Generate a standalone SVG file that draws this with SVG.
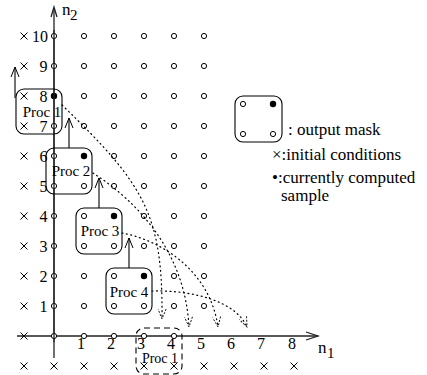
<svg xmlns="http://www.w3.org/2000/svg" width="427" height="375" viewBox="0 0 427 375" font-family="'Liberation Serif', 'Times New Roman', serif">
<style>
text{font-family:"Liberation Serif","Times New Roman",serif;fill:#000}
.num{font-size:16px}
.lbl{font-size:15px;text-anchor:middle}
.leg{font-size:17px}
.box{fill:none;stroke:#000;stroke-width:1.1}
.dbox{fill:none;stroke:#000;stroke-width:1.1;stroke-dasharray:6 4}
.ax{fill:none;stroke:#222;stroke-width:1.3}
.up{fill:none;stroke:#000;stroke-width:1.1}
.dot{fill:none;stroke:#000;stroke-width:1.2;stroke-dasharray:1 3.5;stroke-linecap:round}
</style>
<defs>
<circle id="c" r="2.6" fill="#fff" stroke="#000" stroke-width="1"/>
<circle id="f" r="3.2" fill="#000"/>
<path id="x" d="M-3.5,-3.5L3.5,3.5M-3.5,3.5L3.5,-3.5" stroke="#000" stroke-width="1" fill="none"/>
<marker id="ah" markerUnits="userSpaceOnUse" markerWidth="14" markerHeight="10" refX="10" refY="4" orient="auto" overflow="visible">
<path d="M0,0L10,4L0,8" fill="none" stroke="#000" stroke-width="1"/>
</marker>
<marker id="ahd" markerUnits="userSpaceOnUse" markerWidth="14" markerHeight="10" refX="10" refY="4" orient="auto" overflow="visible">
<path d="M0,0L10,4L0,8" fill="none" stroke="#000" stroke-width="0.9" stroke-dasharray="2 1.5"/>
</marker>
</defs>
<rect width="427" height="375" fill="#fff"/>

<g id="axes">
<line class="ax" x1="54" y1="358" x2="54" y2="8"/>
<path class="ax" d="M51,17L54,7L57,17"/>
<line class="ax" x1="17" y1="336" x2="318" y2="336"/>
<path class="ax" d="M306,332L318,336L306,340"/>
<text x="62" y="15" style="font-size:17px">n</text><text x="70" y="20" style="font-size:15px">2</text>
<text x="318" y="353" style="font-size:17px">n</text><text x="327" y="358" style="font-size:15px">1</text>
</g>

<g id="grid-labels" class="num">
<text x="48" y="42" text-anchor="end">10</text>
<text x="47.5" y="72" text-anchor="end">9</text>
<text x="47.5" y="102" text-anchor="end">8</text>
<text x="47.5" y="132" text-anchor="end">7</text>
<text x="47.5" y="162" text-anchor="end">6</text>
<text x="47.5" y="192" text-anchor="end">5</text>
<text x="47.5" y="222" text-anchor="end">4</text>
<text x="47.5" y="252" text-anchor="end">3</text>
<text x="47.5" y="282" text-anchor="end">2</text>
<text x="47.5" y="312" text-anchor="end">1</text>
<text x="81" y="349" text-anchor="middle">1</text>
<text x="111" y="349" text-anchor="middle">2</text>
<text x="141" y="349" text-anchor="middle">3</text>
<text x="171" y="349" text-anchor="middle">4</text>
<text x="201" y="349" text-anchor="middle">5</text>
<text x="231" y="349" text-anchor="middle">6</text>
<text x="261" y="349" text-anchor="middle">7</text>
<text x="292" y="349" text-anchor="middle">8</text>
</g>

<g id="initial-conditions">
<use href="#x" x="24" y="36"/><use href="#x" x="24" y="66"/><use href="#x" x="24" y="96"/><use href="#x" x="24" y="126"/>
<use href="#x" x="24" y="156"/><use href="#x" x="24" y="186"/><use href="#x" x="24" y="216"/><use href="#x" x="24" y="246"/>
<use href="#x" x="24" y="276"/><use href="#x" x="24" y="306"/><use href="#x" x="24" y="336"/>
<use href="#x" x="24" y="366"/><use href="#x" x="54" y="366"/><use href="#x" x="84" y="366"/><use href="#x" x="114" y="366"/>
<use href="#x" x="144" y="366"/><use href="#x" x="174" y="366"/><use href="#x" x="204" y="366"/><use href="#x" x="234" y="366"/>
<use href="#x" x="264" y="366"/><use href="#x" x="294" y="366"/>
</g>

<g id="samples">
<use href="#c" x="54" y="36"/><use href="#c" x="84" y="36"/><use href="#c" x="114" y="36"/><use href="#c" x="144" y="36"/><use href="#c" x="174" y="36"/><use href="#c" x="204" y="36"/>
<use href="#c" x="54" y="66"/><use href="#c" x="84" y="66"/><use href="#c" x="114" y="66"/><use href="#c" x="144" y="66"/><use href="#c" x="174" y="66"/><use href="#c" x="204" y="66"/>
<use href="#f" x="54" y="96"/><use href="#c" x="84" y="96"/><use href="#c" x="114" y="96"/><use href="#c" x="144" y="96"/><use href="#c" x="174" y="96"/><use href="#c" x="204" y="96"/>
<use href="#c" x="54" y="126"/><use href="#c" x="84" y="126"/><use href="#c" x="114" y="126"/><use href="#c" x="144" y="126"/><use href="#c" x="174" y="126"/><use href="#c" x="204" y="126"/>
<use href="#c" x="54" y="156"/><use href="#f" x="84" y="156"/><use href="#c" x="114" y="156"/><use href="#c" x="144" y="156"/><use href="#c" x="174" y="156"/><use href="#c" x="204" y="156"/>
<use href="#c" x="54" y="186"/><use href="#c" x="84" y="186"/><use href="#c" x="114" y="186"/><use href="#c" x="144" y="186"/><use href="#c" x="174" y="186"/><use href="#c" x="204" y="186"/>
<use href="#c" x="54" y="216"/><use href="#c" x="84" y="216"/><use href="#f" x="114" y="216"/><use href="#c" x="144" y="216"/><use href="#c" x="174" y="216"/><use href="#c" x="204" y="216"/>
<use href="#c" x="54" y="246"/><use href="#c" x="84" y="246"/><use href="#c" x="114" y="246"/><use href="#c" x="144" y="246"/><use href="#c" x="174" y="246"/><use href="#c" x="204" y="246"/>
<use href="#c" x="54" y="276"/><use href="#c" x="84" y="276"/><use href="#c" x="114" y="276"/><use href="#f" x="144" y="276"/><use href="#c" x="174" y="276"/><use href="#c" x="204" y="276"/>
<use href="#c" x="54" y="306"/><use href="#c" x="84" y="306"/><use href="#c" x="114" y="306"/><use href="#c" x="144" y="306"/><use href="#c" x="174" y="306"/><use href="#c" x="204" y="306"/>
<use href="#c" x="54" y="336"/><use href="#c" x="84" y="336"/><use href="#c" x="114" y="336"/><use href="#c" x="144" y="336"/><use href="#c" x="174" y="336"/>
</g>
<line x1="54" y1="30" x2="54" y2="342" stroke="#222" stroke-width="1.3"/>

<g id="proc1">
<rect class="box" x="16" y="89" width="46" height="45" rx="8"/>
<text class="lbl" x="42" y="117">Proc 1</text>
</g>
<g id="proc2">
<rect class="box" x="46" y="148" width="46" height="46" rx="8"/>
<text class="lbl" x="71" y="176">Proc 2</text>
</g>
<g id="proc3">
<rect class="box" x="76" y="208" width="46" height="46" rx="8"/>
<text class="lbl" x="100" y="236">Proc 3</text>
</g>
<g id="proc4">
<rect class="box" x="106" y="268" width="46" height="46" rx="8"/>
<text class="lbl" x="129" y="297">Proc 4</text>
</g>
<g id="proc1-next">
<rect class="dbox" x="136" y="328" width="46" height="46" rx="8"/>
<text class="lbl" x="160" y="363" style="font-size:14px">Proc 1</text>
</g>

<g id="connectors">
<line class="up" x1="15" y1="98" x2="15" y2="67" marker-end="url(#ah)"/>
<line class="up" x1="69" y1="148" x2="69" y2="118" marker-end="url(#ah)"/>
<line class="up" x1="99" y1="208" x2="99" y2="178" marker-end="url(#ah)"/>
<line class="up" x1="129" y1="268" x2="129" y2="238" marker-end="url(#ah)"/>
<path class="dot" d="M62,105C145,185 163,215 162,319" marker-end="url(#ahd)"/>
<path class="dot" d="M93,173C135,200 185,250 189,327" marker-end="url(#ahd)"/>
<path class="dot" d="M122,233C160,240 210,270 218,327" marker-end="url(#ahd)"/>
<path class="dot" d="M152,291C190,290 235,300 247,327" marker-end="url(#ahd)"/>
</g>

<g id="legend">
<rect class="box" x="235" y="96" width="47" height="46" rx="8"/>
<use href="#c" x="243" y="104"/><use href="#f" x="273" y="104"/>
<use href="#c" x="243" y="134"/><use href="#c" x="273" y="134"/>
<text class="leg" x="288" y="135">: output mask</text>
<text class="leg" x="272" y="160">×:initial conditions</text>
<text class="leg" x="272" y="183">•:currently computed</text>
<text class="leg" x="281" y="201">sample</text>
</g>
</svg>
